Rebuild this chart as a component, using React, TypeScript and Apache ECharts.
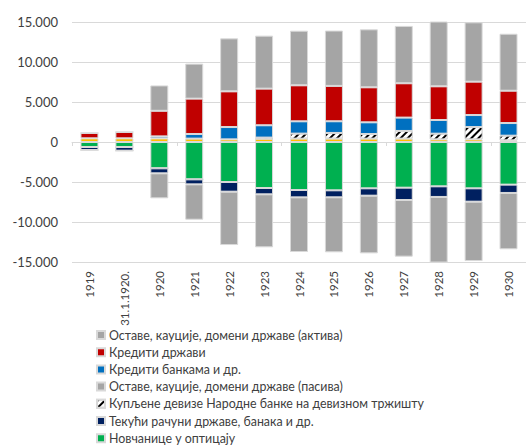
import React, { useEffect, useRef } from "react";
import * as echarts from "echarts";

const categories = ["1919", "31.1.1920.", "1920", "1921", "1922", "1923", "1924", "1925", "1926", "1927", "1928", "1929", "1930"];

const yellowName = "Злато";
const yellowValues = [460, 460, 450, 420, 330, 400, 420, 420, 420, 420, 330, 330, 210];
const hatchedName = "Купљене девизе Народне банке на девизном тржишту";
const hatchedValues = [0, 0, 0, 0, 0, 150, 625, 710, 580, 960, 710, 1540, 580];
const blueName = "Кредити банкама и др.";
const blueValues = [0, 0, 250, 580, 1540, 1540, 1540, 1460, 1460, 1670, 1710, 1500, 1580];
const redName = "Кредити држави";
const redValues = [670, 790, 3200, 4420, 4460, 4580, 4500, 4420, 4375, 4290, 4210, 4170, 4040];
const grayAName = "Оставе, кауције, домени државе (актива)";
const grayAValues = [0, 0, 3170, 4375, 6625, 6625, 6830, 6920, 7250, 7170, 8200, 7420, 7125];

const greenName = "Новчанице у оптицају";
const greenValues = [-625, -625, -3290, -4670, -5000, -5750, -6000, -6040, -5790, -5710, -5540, -5790, -5330];
const navyName = "Текући рачуни државе, банака и др.";
const navyValues = [-375, -460, -625, -625, -1210, -790, -920, -875, -920, -1540, -1330, -1670, -1040];
const grayPName = "Оставе, кауције, домени државе (пасива)";
const grayPValues = [0, 0, -3125, -4420, -6670, -6625, -6830, -6875, -7210, -7080, -8210, -7420, -7040];

const legendOrder = [grayAName, redName, blueName, grayPName, hatchedName, navyName, greenName];

const yMin = -15000;
const yMax = 15000;
const yStep = 5000;

const FONT = "Lato";

function fmt(v: number): string {
  const s = Math.abs(v).toString().replace(/\B(?=(\d{3})+(?!\d))/g, ".");
  return (v < 0 ? "-" : "") + s;
}

export default function App() {
  const ref = useRef<HTMLDivElement>(null);
  useEffect(() => {
    if (!ref.current) return;
    const chart = echarts.init(ref.current, null, { renderer: "svg" });
    const border = { borderColor: "#d9d9d9", borderWidth: 1 };
    const mk = (name: string, data: number[], color: string, extra: any = {}) => ({
      name,
      type: "bar",
      stack: "a",
      data,
      barWidth: 18,
      xAxisIndex: 0,
      itemStyle: { color, ...border, ...extra },
      emphasis: { disabled: true },
    });
    chart.setOption({
      animation: false,
      textStyle: { fontFamily: FONT },
      grid: { left: 72, right: -3, top: 22, height: 240, containLabel: false },
      legend: {
        data: legendOrder,
        orient: "vertical",
        left: 96,
        top: 329,
        height: 150,
        padding: [0, 0, 0, 0],
        itemWidth: 8,
        itemHeight: 8,
        itemGap: 5.2,
        icon: "rect",
        selectedMode: false,
        textStyle: { fontFamily: FONT, fontSize: 12.4, color: "#404040", lineHeight: 12, padding: [0, 0, 0, -1] },
      },
      xAxis: [
        {
          type: "category",
          data: categories,
          position: "bottom",
          axisLine: { show: false, onZero: false },
          axisTick: { show: false },
          axisLabel: { rotate: 90, margin: 9, fontSize: 11.5, color: "#404040", fontFamily: FONT },
        },
        {
          type: "category",
          data: categories,
          position: "top",
          axisLine: { show: true, onZero: true, lineStyle: { color: "#d9d9d9", width: 1 } },
          axisTick: { show: true, inside: true, length: 4, lineStyle: { color: "#d9d9d9" } },
          axisLabel: { show: false },
        },
      ],
      yAxis: {
        type: "value",
        min: yMin,
        max: yMax,
        interval: yStep,
        axisLine: { show: false },
        axisTick: { show: false },
        splitLine: { lineStyle: { color: "#d9d9d9", width: 1 } },
        axisLabel: { formatter: (v: number) => fmt(v), fontSize: 13, color: "#404040", fontFamily: FONT, margin: 14 },
      },
      series: [
        mk(yellowName, yellowValues, "#FFC000"),
        mk(greenName, greenValues, "#00B050"),
        mk(hatchedName, hatchedValues, "#ffffff", {
          decal: {
            symbol: "rect",
            symbolSize: 1,
            color: "#000000",
            dashArrayX: [1, 0],
            dashArrayY: [2, 3],
            rotation: -Math.PI / 4,
          },
        }),
        mk(navyName, navyValues, "#002060"),
        mk(blueName, blueValues, "#0070C0"),
        mk(grayPName, grayPValues, "#A5A5A5"),
        mk(redName, redValues, "#C00000"),
        mk(grayAName, grayAValues, "#A5A5A5"),
      ],
    });
    return () => chart.dispose();
  }, []);
  return <div ref={ref} style={{ position: "absolute", left: 0, top: 0, width: 526, height: 447 }} />;
}
